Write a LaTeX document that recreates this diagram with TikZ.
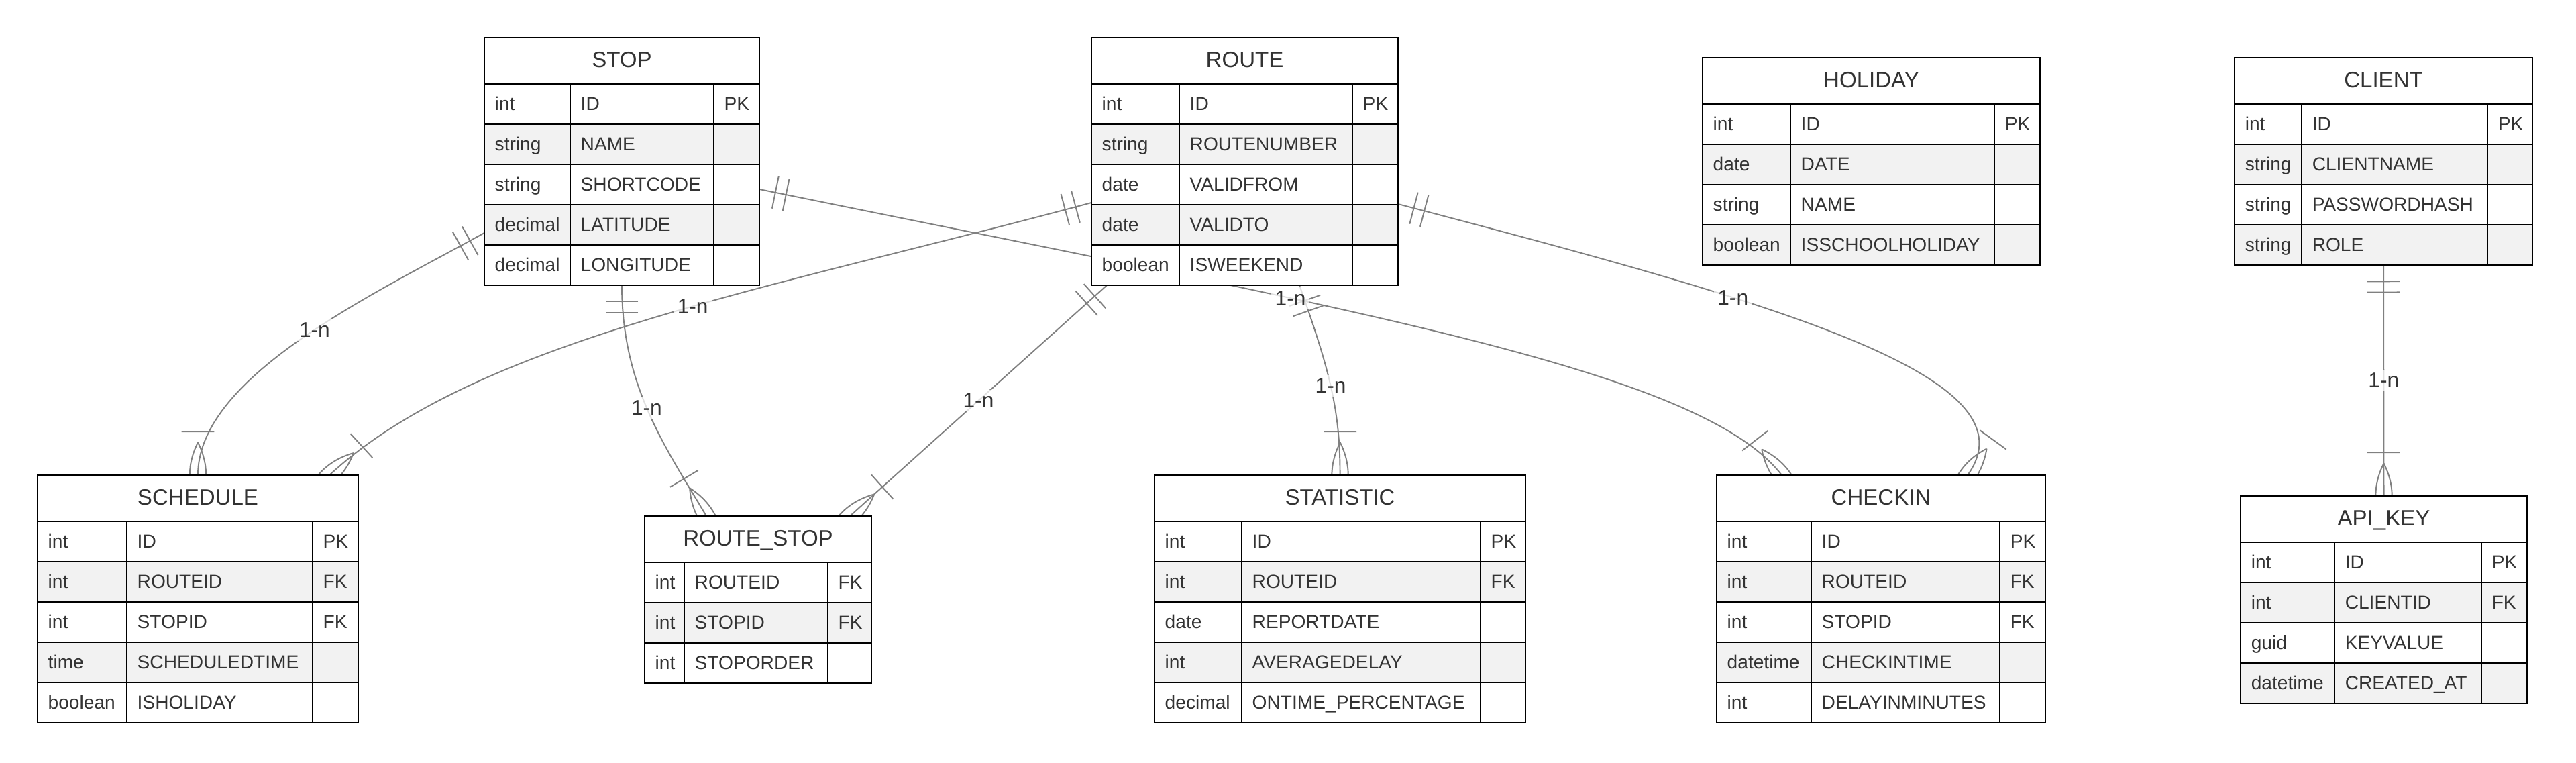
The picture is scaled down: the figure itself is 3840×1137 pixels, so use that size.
\documentclass[tikz,border=0pt]{standalone}
\usepackage{fontspec}
\setmainfont{Liberation Sans}
\usetikzlibrary{calc,backgrounds,decorations.markings}

\definecolor{linegray}{HTML}{808080}
\definecolor{rowgray}{HTML}{F2F2F2}
\definecolor{txtgray}{HTML}{333333}

\tikzset{
  cellline/.style={draw=black, line width=0.7pt},
  tablebox/.style={draw=black, line width=0.7pt, inner sep=0pt, outer sep=0pt},
  celltext/.style={text=txtgray, font=\fontsize{8}{9.6}\selectfont, inner sep=0pt, anchor=base west},
  titletext/.style={text=txtgray, font=\fontsize{9.4}{11}\selectfont, inner sep=0pt, anchor=base},
  rel/.style={draw=linegray, line width=0.55pt},
  lbl/.style={text=txtgray, font=\fontsize{9}{10.8}\selectfont, fill=white, fill opacity=0.75, text opacity=1, inner sep=1.5pt},
  % crow's foot markers
  onlyone/.style={postaction={decorate, decoration={markings,
      mark=at position 0 with {\draw[rel] (24.3,-24.3) -- (24.3,24.3) (40.5,-24.3) -- (40.5,24.3);}}}},
  oneormore/.style={postaction={decorate, decoration={markings,
      mark=at position 0.9999 with {\draw[rel] (-64.8,-24.3) -- (-64.8,24.3)
        (-48.6,0) .. controls (-16.2,16.2) and (16.2,16.2) .. (48.6,0)
        .. controls (16.2,-16.2) and (-16.2,-16.2) .. (-48.6,0);}}}},
}

% entity table: name, x, y, type width, name width, key width, title, rows
\newcommand{\ertable}[8]{%
  \pgfmathsetmacro{\tabw}{#4+#5+#6}
  \begin{scope}[shift={(#2,#3)}]
    % header
    \fill[white] (0,0) rectangle (\tabw,69);
    \node[titletext] at (\tabw/2,44.5) {#7};
    % attribute rows
    \foreach \colA/\colB/\colC [count=\i] in {#8} {
      \pgfmathsetmacro{\yt}{69+(\i-1)*60}
      \ifodd\i\relax\def\rowfill{white}\else\def\rowfill{rowgray}\fi
      \filldraw[fill=\rowfill, cellline] (0,\yt) rectangle (\tabw,\yt+60);
      \draw[cellline] (#4,\yt) -- (#4,\yt+60) (#4+#5,\yt) -- (#4+#5,\yt+60);
      \node[celltext] at (15,\yt+39.5) {\colA};
      \node[celltext] at (#4+15,\yt+39.5) {\colB};
      \node[celltext] at (#4+#5+15,\yt+39.5) {\colC};
      \xdef\nrows{\i}
    }
  \end{scope}
  \pgfmathsetmacro{\tabh}{69+60*\nrows}
  \node[tablebox, anchor=north west, minimum width=\tabw*0.01cm, minimum height=\tabh*0.01cm] (#1) at (#2,#3) {};
}

\begin{document}
\begin{tikzpicture}[x=0.01cm, y=-0.01cm]
\useasboundingbox (0,0) rectangle (3840,1137);

%--- Top row of entities ---
\ertable{stop}{722}{56}{128}{214}{68}{STOP}{int/ID/PK, string/NAME/{}, string/SHORTCODE/{}, decimal/LATITUDE/{}, decimal/LONGITUDE/{}}
\ertable{route}{1627}{56}{131}{258}{68}{ROUTE}{int/ID/PK, string/ROUTENUMBER/{}, date/VALIDFROM/{}, date/VALIDTO/{}, boolean/ISWEEKEND/{}}
\ertable{holiday}{2538}{86}{131}{304}{68}{HOLIDAY}{int/ID/PK, date/DATE/{}, string/NAME/{}, boolean/ISSCHOOLHOLIDAY/{}}
\ertable{client}{3331}{86}{100}{277}{67}{CLIENT}{int/ID/PK, string/CLIENTNAME/{}, string/PASSWORDHASH/{}, string/ROLE/{}}

%--- Bottom row of entities ---
\ertable{schedule}{56}{708}{133}{277}{68}{SCHEDULE}{int/ID/PK, int/ROUTEID/FK, int/STOPID/FK, time/SCHEDULEDTIME/{}, boolean/ISHOLIDAY/{}}
\ertable{routestop}{961}{769}{59}{214}{65}{ROUTE\_STOP}{int/ROUTEID/FK, int/STOPID/FK, int/STOPORDER/{}}
\ertable{statistic}{1721}{708}{130}{356}{67}{STATISTIC}{int/ID/PK, int/ROUTEID/FK, date/REPORTDATE/{}, int/AVERAGEDELAY/{}, decimal/ONTIME\_PERCENTAGE/{}}
\ertable{checkin}{2559}{708}{141}{281}{68}{CHECKIN}{int/ID/PK, int/ROUTEID/FK, int/STOPID/FK, datetime/CHECKINTIME/{}, int/DELAYINMINUTES/{}}
\ertable{apikey}{3340}{739}{140}{219}{68}{API\_KEY}{int/ID/PK, int/CLIENTID/FK, guid/KEYVALUE/{}, datetime/CREATED\_AT/{}}

%--- Relations (behind the tables) ---
\begin{pgfonlayer}{background}
  % STOP -> SCHEDULE
  \draw[rel, onlyone, oneormore] ($(stop.north west)+(0,291)$)
    .. controls (560,437) and (295,560) .. (schedule.north) coordinate[pos=0.46] (lab1);
  % ROUTE -> SCHEDULE
  \draw[rel, onlyone, oneormore] ($(route.north west)+(0,246)$)
    .. controls (1144,432) and (712,505) .. ($(schedule.north west)+(435,0)$) coordinate[pos=0.44] (lab2);
  % STOP -> ROUTE_STOP
  \draw[rel, onlyone, oneormore] ($(stop.south west)+(205,0)$)
    .. controls (927,575) and (991,665) .. ($(routestop.north west)+(92,0)$) coordinate[pos=0.48] (lab3);
  % ROUTE -> ROUTE_STOP
  \draw[rel, onlyone, oneormore] ($(route.south west)+(23,0)$)
    -- ($(routestop.north west)+(306,0)$) coordinate[pos=0.5] (lab4);
  % STOP -> CHECKIN
  \draw[rel, onlyone, oneormore] ($(stop.north east)+(0,226)$)
    .. controls (2014,462) and (2534,550) .. ($(checkin.north west)+(97,0)$) coordinate[pos=0.35] (lab5);
  % ROUTE -> STATISTIC
  \draw[rel, onlyone, oneormore] ($(route.south west)+(310,0)$)
    .. controls (1980,547) and (1998,608) .. (statistic.north) coordinate[pos=0.5] (lab6);
  % ROUTE -> CHECKIN
  \draw[rel, onlyone, oneormore] ($(route.north east)+(0,248)$)
    .. controls (2640,450) and (3040,560) .. ($(checkin.north west)+(374,0)$) coordinate[pos=0.34] (lab7);
  % CLIENT -> API_KEY
  \draw[rel, onlyone, oneormore] (client.south) -- (apikey.north) coordinate[pos=0.5] (lab8);
\end{pgfonlayer}

%--- Cardinality labels ---
\foreach \k in {1,...,8} {
  \node[lbl] (card\k) at (lab\k) {1-n};
}

\end{tikzpicture}
\end{document}
